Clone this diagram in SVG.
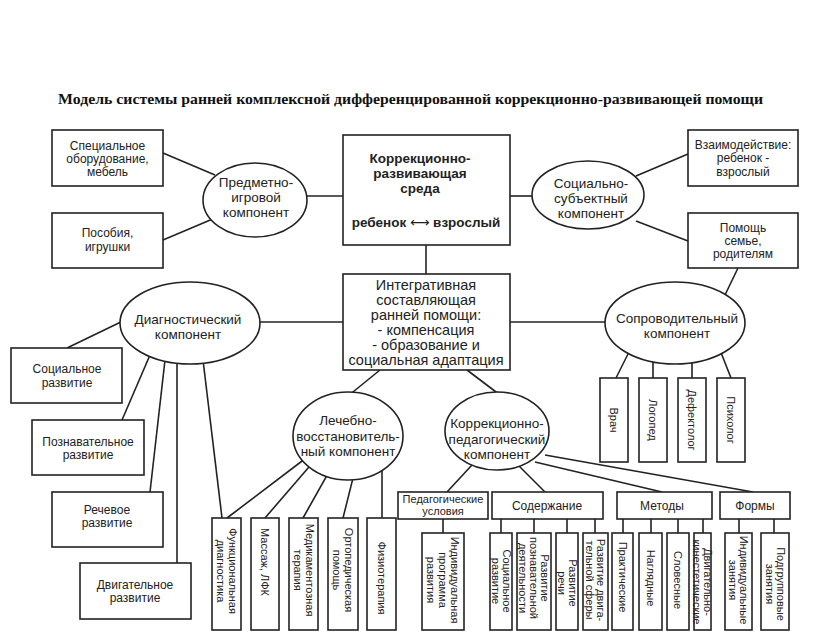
<svg xmlns="http://www.w3.org/2000/svg" width="816" height="637" viewBox="0 0 816 637">
<style>
.bx{fill:#fff;stroke:#222;stroke-width:1.6}
.ln{fill:none;stroke:#222;stroke-width:1.6}
.t{font-family:"Liberation Sans",Arial,sans-serif;font-size:12px;fill:#222;text-anchor:middle}
.e{font-size:13.5px}
.m{font-size:14.5px}
.b{font-weight:bold;font-size:13.5px}
.v{font-size:11px;dominant-baseline:central}
.s{font-size:11px}
.ttl{font-family:"Liberation Serif","Times New Roman",serif;font-weight:bold;font-size:15.5px;fill:#111}
</style>
<rect width="816" height="637" fill="#fff"/>
<text class="ttl" x="58" y="104" textLength="705" lengthAdjust="spacingAndGlyphs">Модель системы  ранней комплексной дифференцированной коррекционно-развивающей помощи</text>
<g id="connectors" class="ln">
<path d="M163,153 L215,175"/>
<path d="M163,240 L215,218"/>
<path d="M300,196 L343,196"/>
<path d="M510,196 L540,196"/>
<path d="M688,154 L636,176"/>
<path d="M688,241 L636,221"/>
<path d="M738,268 L725,295"/>
<path d="M426,245 L426,274"/>
<path d="M250,322 L343,322"/>
<path d="M510,322 L612,322"/>
<path d="M380,370 L348,396"/>
<path d="M467,370 L500,395"/>
<path d="M125,320 L67,348"/>
<path d="M150,355 L122,420"/>
<path d="M165,360 L150,492"/>
<path d="M177,360 L177,563"/>
<path d="M203,360 L222,518"/>
<path d="M310,455 L227,518"/>
<path d="M315,460 L265,518"/>
<path d="M330,470 L303,518"/>
<path d="M355,470 L343,518"/>
<path d="M382,465 L382,518"/>
<path d="M472,465 L447,492"/>
<path d="M518,465 L545,492"/>
<path d="M535,462 L662,492"/>
<path d="M545,455 L753,492"/>
<path d="M443,519 V533 M501,519 V533 M534,519 V533 M567,519 V533 M595,519 V533"/>
<path d="M623,519 V533 M651,519 V533 M678,519 V533 M703,519 V533"/>
<path d="M739,519 V533 M774,519 V533"/>
<path d="M630,350 L616,378"/>
<path d="M653,360 V378 M692,360 V378"/>
<path d="M720,350 L731,378"/>
</g>
<g id="n-special"><rect class="bx" x="52" y="130" width="111" height="56"/><text class="t" x="107.5" y="150">Специальное</text><text class="t" x="107.5" y="163">оборудование,</text><text class="t" x="107.5" y="176">мебель</text></g>
<g id="n-posobiya"><rect class="bx" x="52" y="213" width="111" height="55"/><text class="t" x="107.5" y="237">Пособия,</text><text class="t" x="107.5" y="251">игрушки</text></g>
<g id="n-predmet"><ellipse class="bx" cx="255" cy="200" rx="52" ry="37"/><text class="t e" x="256" y="187">Предметно-</text><text class="t e" x="256" y="202">игровой</text><text class="t e" x="256" y="217">компонент</text></g>
<g id="n-sreda"><rect class="bx" x="343" y="135" width="167" height="110"/><text class="t b" x="420" y="163">Коррекционно-</text><text class="t b" x="420" y="178">развивающая</text><text class="t b" x="420" y="193">среда</text><text class="t b" x="426" y="227">ребенок <tspan font-family="DejaVu Sans" font-weight="normal">⟷</tspan> взрослый</text></g>
<g id="n-social"><ellipse class="bx" cx="588" cy="195" rx="56" ry="34"/><text class="t e" x="591" y="188">Социально-</text><text class="t e" x="591" y="203">субъектный</text><text class="t e" x="591" y="218">компонент</text></g>
<g id="n-vzaim"><rect class="bx" x="688" y="130" width="110" height="56"/><text class="t" x="743" y="149">Взаимодействие:</text><text class="t" x="743" y="162">ребенок -</text><text class="t" x="743" y="176">взрослый</text></g>
<g id="n-pomosh"><rect class="bx" x="688" y="213" width="110" height="55"/><text class="t" x="743" y="232">Помощь</text><text class="t" x="743" y="245">семье,</text><text class="t" x="743" y="258">родителям</text></g>
<g id="n-integr"><rect class="bx" x="343" y="274" width="167" height="96"/><text class="t m" x="426" y="290">Интегративная</text><text class="t m" x="426" y="305">составляющая</text><text class="t m" x="426" y="320">ранней помощи:</text><text class="t m" x="426" y="335">- компенсация</text><text class="t m" x="426" y="350">- образование и</text><text class="t m" x="426" y="365">социальная адаптация</text></g>
<g id="n-diag"><ellipse class="bx" cx="190" cy="323" rx="70" ry="41"/><text class="t e" x="188" y="324">Диагностический</text><text class="t e" x="188" y="339">компонент</text></g>
<g id="n-soprov"><ellipse class="bx" cx="675" cy="323" rx="70" ry="41"/><text class="t e" x="677" y="323">Сопроводительный</text><text class="t e" x="677" y="338">компонент</text></g>
<g id="n-socrazv"><rect class="bx" x="11" y="348" width="111" height="55"/><text class="t" x="67" y="373">Социальное</text><text class="t" x="67" y="387">развитие</text></g>
<g id="n-poznrazv"><rect class="bx" x="32" y="420" width="112" height="55"/><text class="t" x="88" y="446">Познавательное</text><text class="t" x="88" y="459">развитие</text></g>
<g id="n-rechrazv"><rect class="bx" x="52" y="492" width="111" height="55"/><text class="t" x="107" y="514">Речевое</text><text class="t" x="107" y="527">развитие</text></g>
<g id="n-dvigrazv"><rect class="bx" x="80" y="563" width="111" height="56"/><text class="t" x="135" y="589">Двигательное</text><text class="t" x="135" y="602">развитие</text></g>
<g id="n-lech"><ellipse class="bx" cx="348" cy="436" rx="55" ry="44"/><text class="t e" x="348" y="425">Лечебно-</text><text class="t e" x="348" y="441">восстановитель-</text><text class="t e" x="348" y="456">ный компонент</text></g>
<g id="n-korped"><ellipse class="bx" cx="497" cy="431" rx="52" ry="39"/><text class="t e" x="497" y="428">Коррекционно-</text><text class="t e" x="497" y="444">педагогический</text><text class="t e" x="497" y="459">компонент</text></g>
<g id="n-funcdiag"><rect class="bx" x="212" y="518" width="29" height="112"/><g transform="translate(226.5,571) rotate(90)"><text class="t v" y="-6">Функциональная</text><text class="t v" y="6">диагностика</text></g></g>
<g id="n-massazh"><rect class="bx" x="251" y="518" width="28" height="112"/><text class="t v" transform="translate(265,562) rotate(90)">Массаж, ЛФК</text></g>
<g id="n-medik"><rect class="bx" x="289" y="518" width="29" height="112"/><g transform="translate(303.5,570) rotate(90)"><text class="t v" y="-6">Медикаментозная</text><text class="t v" y="6">терапия</text></g></g>
<g id="n-ortoped"><rect class="bx" x="328" y="518" width="30" height="112"/><g transform="translate(343,570) rotate(90)"><text class="t v" y="-6">Ортопедическая</text><text class="t v" y="6">помощь</text></g></g>
<g id="n-fizio"><rect class="bx" x="367" y="518" width="29" height="112"/><text class="t v" transform="translate(381.5,578) rotate(90)">Физиотерапия</text></g>
<g id="n-peduslov"><rect class="bx" x="398" y="492" width="90" height="27"/><text class="t s" x="443" y="503">Педагогические</text><text class="t s" x="443" y="515">условия</text></g>
<g id="n-soderzh"><rect class="bx" x="492" y="492" width="111" height="27"/><text class="t" x="547" y="510">Содержание</text></g>
<g id="n-metody"><rect class="bx" x="617" y="492" width="95" height="27"/><text class="t" x="662" y="510">Методы</text></g>
<g id="n-formy"><rect class="bx" x="720" y="492" width="70" height="27"/><text class="t" x="755" y="510">Формы</text></g>
<g id="n-indprog"><rect class="bx" x="422" y="533" width="42" height="97"/><g transform="translate(443,580) rotate(90)"><text class="t v" y="-12">Индивидуальная</text><text class="t v" y="0">программа</text><text class="t v" y="12">развития</text></g></g>
<g id="n-socr"><rect class="bx" x="490" y="533" width="22" height="97"/><g transform="translate(501,581) rotate(90)"><text class="t v" y="-5.5">Социальное</text><text class="t v" y="5.5">развитие</text></g></g>
<g id="n-pozn"><rect class="bx" x="517" y="533" width="34" height="97"/><g transform="translate(534,578) rotate(90)"><text class="t v" y="-11">Развитие</text><text class="t v" y="0">познавательной</text><text class="t v" y="11">деятельности</text></g></g>
<g id="n-rech"><rect class="bx" x="556" y="533" width="22" height="97"/><g transform="translate(567,583) rotate(90)"><text class="t v" y="-5.5">Развитие</text><text class="t v" y="5.5">речи</text></g></g>
<g id="n-dvig"><rect class="bx" x="583" y="533" width="25" height="97"/><g transform="translate(595.5,580) rotate(90)"><text class="t v" y="-5.5">Развитие двига-</text><text class="t v" y="5.5">тельной сферы</text></g></g>
<g id="n-prakt"><rect class="bx" x="612" y="533" width="21" height="97"/><text class="t v" transform="translate(622.5,577) rotate(90)">Практические</text></g>
<g id="n-nagl"><rect class="bx" x="639" y="533" width="23" height="97"/><text class="t v" transform="translate(650.5,578) rotate(90)">Наглядные</text></g>
<g id="n-slov"><rect class="bx" x="667" y="533" width="22" height="97"/><text class="t v" transform="translate(678,580) rotate(90)">Словесные</text></g>
<g id="n-kinest"><rect class="bx" x="694" y="533" width="17" height="97"/><g transform="translate(702.5,582) rotate(90)"><text class="t v" y="-5.5">Двигательно-</text><text class="t v" y="5.5">кинестетические</text></g></g>
<g id="n-indzan"><rect class="bx" x="725" y="533" width="27" height="97"/><g transform="translate(738.5,580) rotate(90)"><text class="t v" y="-5.5">Индивидуальные</text><text class="t v" y="5.5">занятия</text></g></g>
<g id="n-podgr"><rect class="bx" x="761" y="533" width="28" height="97"/><g transform="translate(775,584) rotate(90)"><text class="t v" y="-5.5">Подгрупповые</text><text class="t v" y="5.5">занятия</text></g></g>
<g id="n-vrach"><rect class="bx" x="600" y="378" width="28" height="84"/><text class="t v" transform="translate(614,420) rotate(90)">Врач</text></g>
<g id="n-logoped"><rect class="bx" x="639" y="378" width="28" height="84"/><text class="t v" transform="translate(653,420) rotate(90)">Логопед</text></g>
<g id="n-defekt"><rect class="bx" x="678" y="378" width="28" height="84"/><text class="t v" transform="translate(692,420) rotate(90)">Дефектолог</text></g>
<g id="n-psihol"><rect class="bx" x="717" y="378" width="28" height="84"/><text class="t v" transform="translate(731,420) rotate(90)">Психолог</text></g>
</svg>
